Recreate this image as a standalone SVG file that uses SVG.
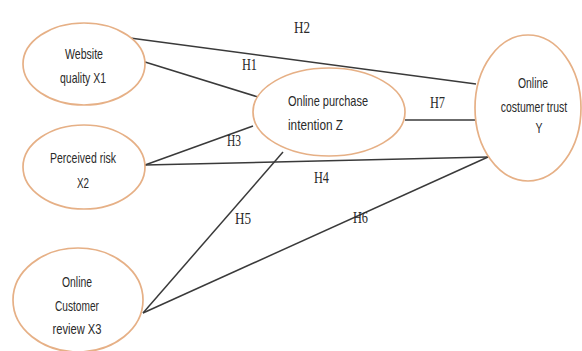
<svg xmlns="http://www.w3.org/2000/svg" width="582" height="351" viewBox="0 0 582 351">
<style>
.node ellipse{fill:#fff;stroke:#E6B086;stroke-width:1.7}
.node text{font-family:"Liberation Sans",Arial,sans-serif;font-size:15px;fill:#2a2a2a;text-anchor:middle}
.node text.l{text-anchor:start}
.edges line{stroke:#3a3a3a;stroke-width:1.5}
.lbl{font-family:"Liberation Serif","Times New Roman",serif;font-size:16px;fill:#2a2a2a}
</style>
<rect width="582" height="351" fill="#fff"/>
<g class="edges" id="connectors">
<line x1="130" y1="38" x2="476" y2="84"/>
<line x1="145" y1="62" x2="258" y2="97"/>
<line x1="405" y1="120" x2="475" y2="120"/>
<line x1="145" y1="165" x2="253" y2="126"/>
<line x1="145" y1="165" x2="488" y2="157"/>
<line x1="143" y1="313" x2="283" y2="152"/>
<line x1="143" y1="313" x2="488" y2="157"/>
<text class="lbl" x="294" y="33" textLength="16" lengthAdjust="spacingAndGlyphs">H2</text>
<text class="lbl" x="242" y="70" textLength="15" lengthAdjust="spacingAndGlyphs">H1</text>
<text class="lbl" x="430" y="108" textLength="15" lengthAdjust="spacingAndGlyphs">H7</text>
<text class="lbl" x="227" y="146" textLength="14" lengthAdjust="spacingAndGlyphs">H3</text>
<text class="lbl" x="314" y="183" textLength="15" lengthAdjust="spacingAndGlyphs">H4</text>
<text class="lbl" x="235" y="224" textLength="16" lengthAdjust="spacingAndGlyphs">H5</text>
<text class="lbl" x="353" y="223" textLength="15" lengthAdjust="spacingAndGlyphs">H6</text>
</g>
<g class="node" id="x1">
<ellipse cx="84" cy="64" rx="61" ry="41"/>
<text x="84" y="59" textLength="38" lengthAdjust="spacingAndGlyphs">Website</text>
<text x="83" y="83" textLength="46" lengthAdjust="spacingAndGlyphs">quality X1</text>
</g>
<g class="node" id="x2">
<ellipse cx="84" cy="167" rx="61" ry="42"/>
<text x="83" y="163" textLength="66" lengthAdjust="spacingAndGlyphs">Perceived risk</text>
<text x="83" y="188" textLength="12" lengthAdjust="spacingAndGlyphs">X2</text>
</g>
<g class="node" id="x3">
<ellipse cx="78" cy="300" rx="65" ry="52"/>
<text x="77" y="287" textLength="30" lengthAdjust="spacingAndGlyphs">Online</text>
<text x="77" y="311" textLength="44" lengthAdjust="spacingAndGlyphs">Customer</text>
<text x="77" y="334" textLength="49" lengthAdjust="spacingAndGlyphs">review X3</text>
</g>
<g class="node" id="z">
<ellipse cx="329" cy="112" rx="76" ry="44"/>
<text class="l" x="288" y="106" textLength="80" lengthAdjust="spacingAndGlyphs">Online  purchase</text>
<text class="l" x="288" y="130" textLength="55" lengthAdjust="spacingAndGlyphs">intention Z</text>
</g>
<g class="node" id="y">
<ellipse cx="528" cy="108" rx="53" ry="73"/>
<text x="533" y="88" textLength="30" lengthAdjust="spacingAndGlyphs">Online</text>
<text x="0" y="0" transform="translate(534 112) scale(0.7 1)">costumer trust</text>
<text x="539" y="133" textLength="7" lengthAdjust="spacingAndGlyphs">Y</text>
</g>
</svg>
